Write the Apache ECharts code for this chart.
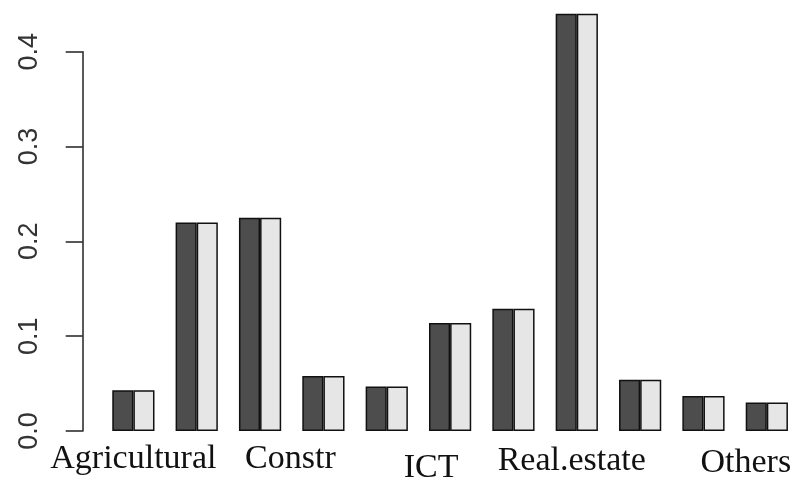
<!DOCTYPE html>
<html>
<head>
<meta charset="utf-8">
<script src="https://cdn.jsdelivr.net/npm/echarts@6/dist/echarts.min.js"></script>
<style>html,body{margin:0;padding:0;background:#fff}#c{width:804px;height:479px}</style>
</head>
<body>
<div id="c"></div>
<script>
// ---- data ----
const categories = ['Agricultural', '', '', 'Constr', '', 'ICT', '', 'Real.estate', '', '', 'Others'];
const seriesA = [0.043, 0.220, 0.225, 0.058, 0.047, 0.114, 0.129, 0.440, 0.054, 0.037, 0.030];
const seriesB = [0.043, 0.220, 0.225, 0.058, 0.047, 0.114, 0.129, 0.440, 0.054, 0.037, 0.030];
const yTicks = [0.0, 0.1, 0.2, 0.3, 0.4];

// ---- label layout (style only) ----
const labelShiftX = {0: 0, 3: -33, 5: -19, 7: -5, 10: -21};
const labelShiftY = {0: 0, 3: 0, 5: 9, 7: 2, 10: 4};
const rich = {};
Object.keys(labelShiftX).forEach(k => {
  const dx = labelShiftX[k], dy = labelShiftY[k];
  rich['l' + k] = {
    fontFamily: 'Liberation Serif', fontSize: 34, color: '#111',
    padding: [dy, dx < 0 ? -2 * dx : 0, 0, dx > 0 ? 2 * dx : 0]
  };
});

const chart = echarts.init(document.getElementById('c'), null, {renderer: 'canvas'});
chart.setOption({
  animation: false,
  backgroundColor: '#fff',
  grid: {left: 101.7, right: 5.5, top: 51.7, bottom: 48, containLabel: false, outerBoundsMode: 'none'},
  xAxis: {
    type: 'category',
    data: categories,
    axisLine: {show: false},
    axisTick: {show: false},
    axisLabel: {
      interval: 0,
      margin: 11,
      hideOverlap: false,
      formatter: (v, i) => v ? '{l' + i + '|' + v + '}' : '',
      rich: rich
    }
  },
  yAxis: {
    type: 'value',
    min: yTicks[0],
    max: yTicks[yTicks.length - 1],
    interval: 0.1,
    offset: 19,
    splitLine: {show: false},
    axisLine: {show: true, lineStyle: {color: '#222', width: 1.5}},
    axisTick: {show: true, length: 17, lineStyle: {color: '#222', width: 1.5}},
    axisLabel: {
      rotate: 90,
      margin: 40,
      fontFamily: 'Liberation Sans',
      fontSize: 27,
      color: '#333',
      formatter: v => v.toFixed(1)
    }
  },
  series: [
    {
      type: 'bar', data: seriesA, clip: false,
      barGap: '0%', barCategoryGap: '33.333%',
      itemStyle: {color: '#4D4D4D', borderColor: '#111', borderWidth: 1.5}
    },
    {
      type: 'bar', data: seriesB, clip: false,
      barGap: '0%', barCategoryGap: '33.333%',
      itemStyle: {color: '#E6E6E6', borderColor: '#111', borderWidth: 1.5}
    }
  ]
});
</script>
</body>
</html>
